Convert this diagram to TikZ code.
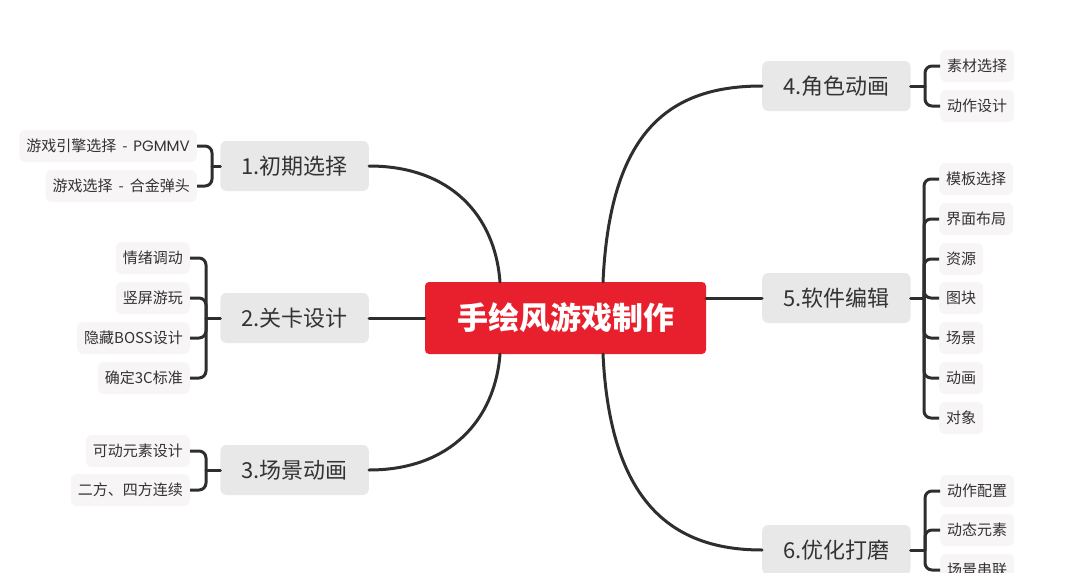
\documentclass[tikz,border=0pt]{standalone}
\usepackage{fontspec}
\setmainfont{Noto Sans CJK SC}
\newfontfamily\latfont{Poppins}
\definecolor{rootred}{HTML}{E8202D}
\definecolor{topicgray}{HTML}{E8E8E8}
\definecolor{subgray}{HTML}{F7F5F5}
\definecolor{linec}{HTML}{2E2E2E}
\definecolor{textc}{HTML}{333333}
\tikzset{
  root/.style={fill=rootred, rounded corners=4pt, minimum width=281pt, minimum height=72pt, text=white, font=\fontsize{31}{31}\selectfont\bfseries, inner sep=0pt},
  topic/.style={fill=topicgray, rounded corners=6pt, minimum height=50pt, inner xsep=21pt, inner ysep=0pt, text=textc, font=\fontsize{22}{22}\selectfont},
  sub/.style={fill=subgray, rounded corners=6pt, minimum height=32pt, inner xsep=7pt, inner ysep=0pt, text=textc, font=\fontsize{15}{15}\selectfont},
  conn/.style={draw=linec, line width=3pt, line cap=round},
  brk/.style={draw=linec, line width=3pt, rounded corners=7pt}
}
\begin{document}
\begin{tikzpicture}[x=1pt,y=-1pt]
\useasboundingbox (0,0) rectangle (1080,573);
\clip (0,0) rectangle (1080,573);
% root
\node[root] (c) at (565.5,318) {手绘风游戏制作};
% topics
\node[topic, anchor=east] (t1) at (369,166) {1.初期选择};
\node[topic, anchor=east] (t2) at (369,318) {2.关卡设计};
\node[topic, anchor=east] (t3) at (369,470) {3.场景动画};
\node[topic, anchor=west] (t4) at (762,86) {4.角色动画};
\node[topic, anchor=west] (t5) at (762,298) {5.软件编辑};
\node[topic, anchor=west] (t6) at (762,550) {6.优化打磨};
% junctions
\coordinate (j1) at (212,166);
\coordinate (j2) at (206,318);
\coordinate (j3) at (206,470);
\coordinate (j4) at (925,86);
\coordinate (j5) at (924,298);
\coordinate (j6) at (925,550);
\coordinate (c1) at (500,282);
\coordinate (c3) at (500,354);
\coordinate (c4) at (603,282);
\coordinate (c6) at (603,354);
\coordinate (c2) at (425,318);
\coordinate (c5) at (706,298);
% subs of 1
\node[sub, anchor=east] (s11) at (197,146) {游戏引擎选择\hspace{6pt}-\hspace{6pt}{\latfont PGMMV}};
\node[sub, anchor=east] (s12) at (197,186) {游戏选择\hspace{6pt}-\hspace{6pt}合金弹头};
% subs of 2
\node[sub, anchor=east] (s21) at (190,258) {情绪调动};
\node[sub, anchor=east] (s22) at (190,298) {竖屏游玩};
\node[sub, anchor=east] (s23) at (190,338) {隐藏BOSS设计};
\node[sub, anchor=east] (s24) at (190,378) {确定3C标准};
% subs of 3
\node[sub, anchor=east] (s31) at (190,451) {可动元素设计};
\node[sub, anchor=east] (s32) at (190,490) {二方、四方连续};
% subs of 4
\node[sub, anchor=west] (s41) at (940,66) {素材选择};
\node[sub, anchor=west] (s42) at (940,106) {动作设计};
% subs of 5
\node[sub, anchor=west] (s51) at (939,179) {模板选择};
\node[sub, anchor=west] (s52) at (939,219) {界面布局};
\node[sub, anchor=west] (s53) at (939,259) {资源};
\node[sub, anchor=west] (s54) at (939,298) {图块};
\node[sub, anchor=west] (s55) at (939,338) {场景};
\node[sub, anchor=west] (s56) at (939,378) {动画};
\node[sub, anchor=west] (s57) at (939,418) {对象};
% subs of 6
\node[sub, anchor=west] (s61) at (940,491) {动作配置};
\node[sub, anchor=west] (s62) at (940,530) {动态元素};
\node[sub, anchor=west] (s63) at (940,570) {场景串联};
% main connectors
\draw[conn] (t1.east) .. controls (450,166) and (495,215) .. (c1);
\draw[conn] (t2.east) -- (c2);
\draw[conn] (t3.east) .. controls (450,470) and (495,420) .. (c3);
\draw[conn] (c4) .. controls (610,130) and (670,86) .. (t4.west);
\draw[conn] (c5) -- (t5.west);
\draw[conn] (c6) .. controls (610,500) and (670,550) .. (t6.west);
% brackets
\draw[conn] (t1.west) -- (j1);
\foreach \s in {s11,s12} \draw[brk] (j1) |- (\s.east);
\draw[conn] (t2.west) -- (j2);
\foreach \s in {s21,s22,s23,s24} \draw[brk] (j2) |- (\s.east);
\draw[conn] (t3.west) -- (j3);
\foreach \s in {s31,s32} \draw[brk] (j3) |- (\s.east);
\draw[conn] (t4.east) -- (j4);
\foreach \s in {s41,s42} \draw[brk] (j4) |- (\s.west);
\draw[conn] (t5.east) -- (j5);
\foreach \s in {s51,s52,s53,s54,s55,s56,s57} \draw[brk] (j5) |- (\s.west);
\draw[conn] (t6.east) -- (j6);
\foreach \s in {s61,s62,s63} \draw[brk] (j6) |- (\s.west);
\end{tikzpicture}
\end{document}
